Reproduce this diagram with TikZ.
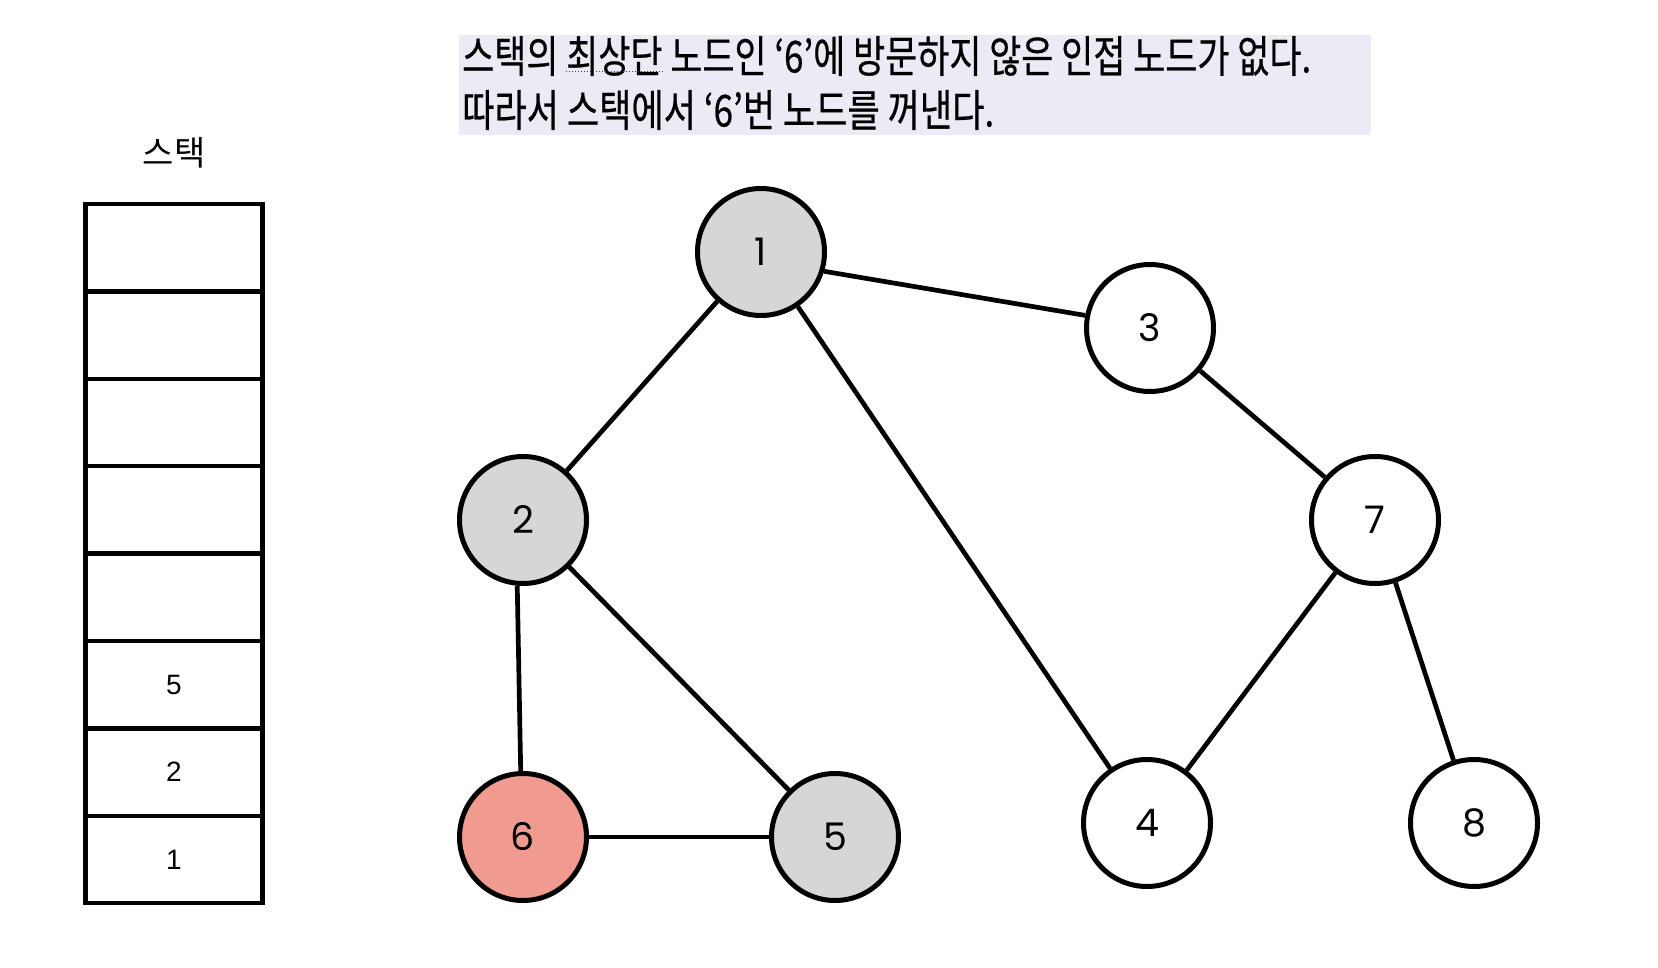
\documentclass[tikz,border=0pt]{standalone}
\usepackage{fontspec}
\usepackage{graphicx}
\newfontfamily\krfont{Noto Sans CJK KR}
\newfontfamily\krnotefont[FakeBold=0.6]{Noto Sans CJK KR}
\newfontfamily\numfont{Poppins}
\newfontfamily\arialfont{Liberation Sans}
\definecolor{visited}{RGB}{214,214,214}
\definecolor{current}{RGB}{241,155,144}
\definecolor{notebg}{RGB}{236,234,244}
\begin{document}
\begin{tikzpicture}[x=1pt,y=-1pt,
  gnode/.style={circle,draw=black,line width=5pt,minimum size=127pt,inner sep=0pt,fill=white,font=\numfont\fontsize{38}{38}\selectfont},
  edge/.style={line width=4.7pt},
  cell/.style={rectangle,draw=black,line width=4.5pt,minimum width=176.6pt,minimum height=87.4pt,inner sep=0pt,outer sep=0pt,font=\arialfont\fontsize{28}{28}\selectfont},
  note/.style={anchor=west,inner sep=0pt,font=\krnotefont\fontsize{44}{44}\selectfont}]
\useasboundingbox (0,0) rectangle (1658,968);
% note box
\node[fill=notebg,minimum width=912pt,minimum height=100pt,inner sep=0pt] (tb) at (915,85) {};
\node[note] (l1) at (462,56) {\resizebox{849pt}{\height}{스택의 최상단 노드인 ‘6’에 방문하지 않은 인접 노드가 없다.}};
\node[note] (l2) at (462,110) {\resizebox{532pt}{\height}{따라서 스택에서 ‘6’번 노드를 꺼낸다.}};
\coordinate (ula) at (566,72);
\coordinate (ulb) at (663,72);
\draw[red!80!black,line width=1pt,dotted] (ula) -- (ulb);
% stack
\node[font=\krfont\fontsize{34}{34}\selectfont] (stlabel) at (174,153) {스택};
\foreach \i/\t in {1/,2/,3/,4/,5/,6/5,7/2,8/1}{
  \node[cell] (s\i) at (174,{204+87.4*(\i-0.5)}) {\t};
}
% graph nodes
\node[gnode,fill=visited] (n1) at (761,252) {1};
\node[gnode,fill=visited] (n2) at (523,520) {2};
\node[gnode] (n3) at (1150,328) {3};
\node[gnode] (n7) at (1375,520) {7};
\node[gnode] (n4) at (1147,823) {4};
\node[gnode] (n8) at (1474,823) {8};
\node[gnode,fill=current] (n6) at (523,837) {6};
\node[gnode,fill=visited] (n5) at (835,837) {5};
% edges
\draw[edge] (n1.-17) -- (n3.169);
\draw[edge] (n1) -- (n2);
\draw[edge] (n1) -- (n4);
\draw[edge] (n3) -- (n7);
\draw[edge] (n2.265) -- (n6.92);
\draw[edge] (n2) -- (n5);
\draw[edge] (n6) -- (n5);
\draw[edge] (n7) -- (n4);
\draw[edge] (n7) -- (n8);
\end{tikzpicture}
\end{document}
